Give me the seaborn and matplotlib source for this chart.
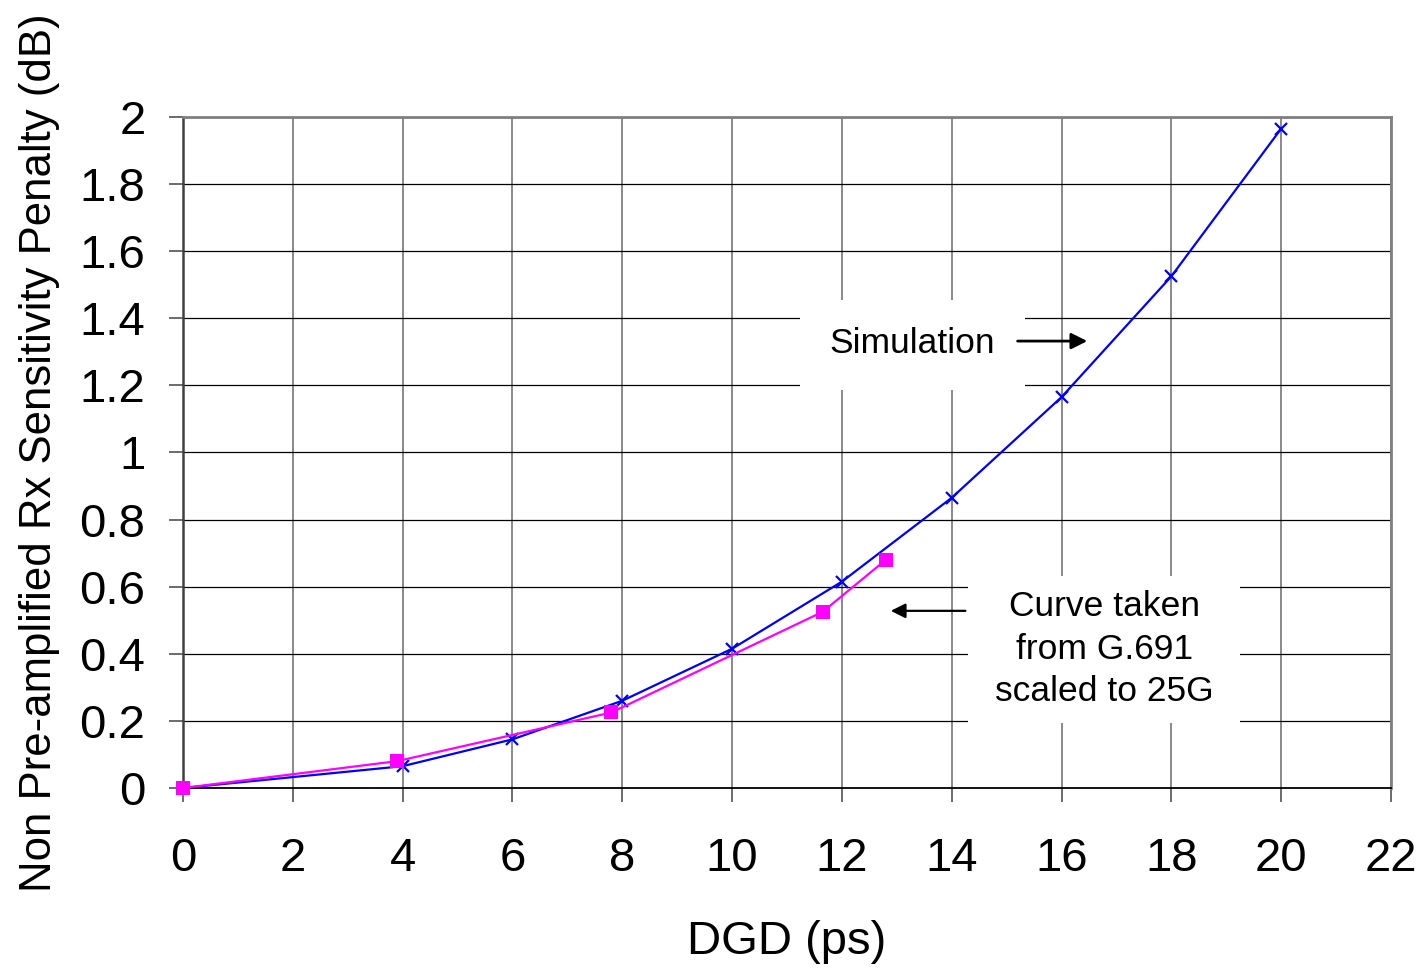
import matplotlib
matplotlib.use("Agg")
import matplotlib.pyplot as plt
import matplotlib.patches as mpatches
import seaborn as sns
import pandas as pd
from matplotlib.ticker import FuncFormatter

# values
sim_dgd = [0, 4, 6, 8, 10, 12, 14, 16, 18, 20]
sim_penalty = [0.0, 0.065, 0.145, 0.26, 0.415, 0.615, 0.865, 1.165, 1.525, 1.965]

g691_dgd = [0, 3.9, 7.8, 11.65, 12.8]
g691_penalty = [0.0, 0.08, 0.225, 0.525, 0.68]

x_ticks = list(range(0, 23, 2))
y_ticks = [0, 0.2, 0.4, 0.6, 0.8, 1.0, 1.2, 1.4, 1.6, 1.8, 2.0]

sim = pd.DataFrame({"dgd": sim_dgd, "penalty": sim_penalty})
g691 = pd.DataFrame({"dgd": g691_dgd, "penalty": g691_penalty})

sns.set_theme(style="white")
plt.rcParams["font.family"] = ["Liberation Sans", "DejaVu Sans"]
plt.rcParams["text.color"] = "black"
plt.rcParams["axes.labelcolor"] = "black"
plt.rcParams["xtick.color"] = "black"
plt.rcParams["ytick.color"] = "black"

fig = plt.figure(figsize=(14.24, 9.69), dpi=100)
ax = fig.add_axes([0.1285, 0.1868, 0.8483, 0.6925])

sns.lineplot(data=sim, x="dgd", y="penalty", ax=ax, color="#0000ff", lw=1.6,
             marker="x", markersize=9, markeredgewidth=1.6,
             markeredgecolor="#0000ff", zorder=3, clip_on=False)
sns.lineplot(data=g691, x="dgd", y="penalty", ax=ax, color="#ff00ff", lw=1.6,
             marker="s", markersize=9.5, markeredgewidth=0, zorder=4, clip_on=False)

ax.set_xlim(0, 22)
ax.set_ylim(0, 2)
ax.set_xticks(x_ticks)
ax.set_yticks(y_ticks)
ax.yaxis.set_major_formatter(FuncFormatter(lambda v, p: "%g" % round(v, 1)))

ax.grid(False)
for xv in x_ticks[1:]:
    ax.axvline(xv, color="#808080", lw=1.3, zorder=1)
for yv in y_ticks[1:]:
    ax.axhline(yv, color="black", lw=0.9, zorder=1)

for side in ["top", "right"]:
    ax.spines[side].set_color("#808080")
    ax.spines[side].set_linewidth(2)
ax.spines["left"].set_color("#404040")
ax.spines["left"].set_linewidth(1.8)
ax.spines["bottom"].set_color("black")
ax.spines["bottom"].set_linewidth(1.3)

ax.tick_params(axis="both", which="major", labelsize=34, length=10, width=1.3,
               direction="out", color="#606060", bottom=True, left=True,
               labelcolor="black")
ax.tick_params(axis="x", pad=25)
ax.tick_params(axis="y", pad=17)

ax.set_xlabel("DGD (ps)", fontsize=34)
ax.xaxis.set_label_coords(0.5, -0.196)
ax.set_ylabel("Non Pre-amplified Rx Sensitivity Penalty (dB)", fontsize=31.5)
ax.yaxis.set_label_coords(-0.102, 0.5)

# white boxes behind the annotations
ax.add_patch(mpatches.Rectangle((11.24, 1.185), 4.1, 0.27, fc="white", ec="none", zorder=2))
ax.add_patch(mpatches.Rectangle((14.3, 0.194), 4.95, 0.438, fc="white", ec="none", zorder=2))

ax.text(13.28, 1.326, "Simulation", fontsize=25.5, ha="center", va="center", zorder=5)
ax.annotate("", xy=(16.52, 1.332), xytext=(15.15, 1.332),
            arrowprops=dict(arrowstyle="-|>", color="black", lw=2, mutation_scale=24),
            zorder=6)

ax.text(16.78, 0.414, "Curve taken\nfrom G.691\nscaled to 25G", fontsize=25.5,
        ha="center", va="center", linespacing=1.38, zorder=5)
ax.annotate("", xy=(12.84, 0.528), xytext=(14.3, 0.528),
            arrowprops=dict(arrowstyle="-|>", color="black", lw=1.6, mutation_scale=22),
            zorder=6)

fig.savefig("out.png", dpi=100)
